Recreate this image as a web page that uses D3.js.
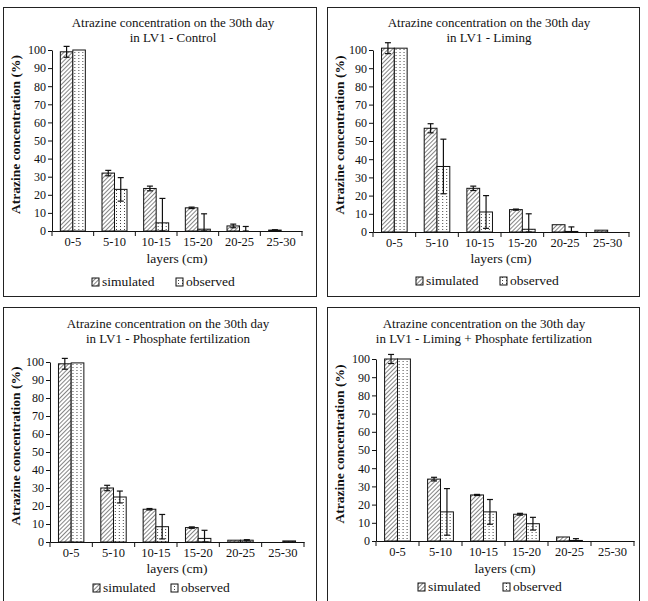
<!DOCTYPE html>
<html>
<head>
<meta charset="utf-8">
<script src="https://cdn.jsdelivr.net/npm/d3@7"></script>
<style>
  body { margin: 0; background: #fff; }
  svg text { font-family: "Liberation Serif", "Times New Roman", serif; fill: #111; }
</style>
</head>
<body>
<svg id="chart"></svg>
<script>
var width = 648;
var height = 601;

var categories = ["0-5", "5-10", "10-15", "15-20", "20-25", "25-30"];
var series = ["simulated", "observed"];
var yTicks = [0, 10, 20, 30, 40, 50, 60, 70, 80, 90, 100];

var titles = [
    "in LV1 - Control",
    "in LV1 -  Liming",
    "in LV1 - Phosphate fertilization",
    "in LV1 - Liming + Phosphate fertilization"
];

var controlSim = [99, 32, 23.5, 12.8, 2.8, 0.5];
var controlSimErr = [3, 1.5, 1.3, 0.4, 1, 0.2];
var controlObs = [100, 23, 4.5, 1, 0, 0];
var controlObsErr = [0, 6.5, 13.5, 8.5, 2.5, 0];

var limingSim = [101, 57, 24, 12.3, 4, 1];
var limingSimErr = [3, 2.5, 1.2, 0.3, 0, 0];
var limingObs = [101, 36, 11, 1.5, 0.3, 0];
var limingObsErr = [0, 15, 9, 8.5, 2.5, 0];

var phosphateSim = [99, 30, 18.2, 8, 1, 0];
var phosphateSimErr = [3, 1.5, 0.4, 0.4, 0, 0];
var phosphateObs = [99.5, 25, 8.5, 2, 1, 0.6];
var phosphateObsErr = [0, 3.3, 6.8, 4.5, 0.3, 0];

var limingPhosSim = [100, 34, 25.3, 14.7, 2.2, 0];
var limingPhosSimErr = [2.5, 1, 0.3, 0.5, 0, 0];
var limingPhosObs = [100, 16, 16, 9.5, 0.3, 0];
var limingPhosObsErr = [0, 12.8, 6.8, 3.5, 1, 0];

var panelData = [
    [controlSim, controlSimErr, controlObs, controlObsErr],
    [limingSim, limingSimErr, limingObs, limingObsErr],
    [phosphateSim, phosphateSimErr, phosphateObs, phosphateObsErr],
    [limingPhosSim, limingPhosSimErr, limingPhosObs, limingPhosObsErr]
];

// layout of the four boxes (pixel positions)
var panels = [
    {box: [3, 7, 313, 289], x: [52, 302], y: [231, 50], titleX: 173, titleY: 27, labelX: 15, xLabelY: 263, legendY: 286, legX: [92, 176]},
    {box: [327, 7, 312, 289], x: [373, 629], y: [232, 50], titleX: 489, titleY: 27, labelX: 339, xLabelY: 263, legendY: 285, legX: [416, 500]},
    {box: [3, 307, 313, 300], x: [50, 304], y: [542, 362], titleX: 168, titleY: 328, labelX: 15, xLabelY: 573, legendY: 592, legX: [93, 171]},
    {box: [327, 307, 312, 300], x: [376, 634], y: [541, 359], titleX: 484, titleY: 328, labelX: 339, xLabelY: 573, legendY: 591, legX: [418, 503]}
];

var svg = d3.select("#chart")
    .attr("width", width)
    .attr("height", height)
    .attr("xmlns", "http://www.w3.org/2000/svg");

svg.append("rect").attr("width", width).attr("height", height).attr("fill", "#fff");

// fill patterns
var defs = svg.append("defs");
var hatch = defs.append("pattern")
    .attr("id", "hatch")
    .attr("patternUnits", "userSpaceOnUse")
    .attr("width", 3)
    .attr("height", 3)
    .attr("patternTransform", "rotate(45)");
hatch.append("rect").attr("width", 3).attr("height", 3).attr("fill", "#fff");
hatch.append("line")
    .attr("x1", 0).attr("y1", 0).attr("x2", 0).attr("y2", 3)
    .attr("stroke", "#333").attr("stroke-width", 1.2);

var dots = defs.append("pattern")
    .attr("id", "dots")
    .attr("patternUnits", "userSpaceOnUse")
    .attr("width", 4)
    .attr("height", 3);
dots.append("rect").attr("width", 4).attr("height", 3).attr("fill", "#fff");
dots.append("rect").attr("x", 2).attr("y", 1).attr("width", 1).attr("height", 1).attr("fill", "#444");

var fills = {simulated: "url(#hatch)", observed: "url(#dots)"};

panels.forEach(function (p, idx) {
    var g = svg.append("g");
    var vals = panelData[idx];

    g.append("rect")
        .attr("x", p.box[0] + 0.5)
        .attr("y", p.box[1] + 0.5)
        .attr("width", p.box[2])
        .attr("height", p.box[3])
        .attr("fill", "none")
        .attr("stroke", "#222")
        .attr("stroke-width", 1);

    var x0 = d3.scaleBand()
        .domain(categories)
        .range(p.x)
        .paddingInner(0.4)
        .paddingOuter(0.2);
    var x1 = d3.scaleBand()
        .domain(series)
        .range([0, x0.bandwidth()]);
    var y = d3.scaleLinear()
        .domain([0, 100])
        .range(p.y);

    var rows = categories.map(function (c, i) {
        return [
            {cat: c, key: "simulated", v: vals[0][i], e: vals[1][i]},
            {cat: c, key: "observed", v: vals[2][i], e: vals[3][i]}
        ];
    });

    var groups = g.selectAll(".grp")
        .data(rows)
        .enter()
        .append("g")
        .attr("transform", function (d) {
            return "translate(" + x0(d[0].cat) + ",0)";
        });

    groups.selectAll("rect")
        .data(function (d) { return d; })
        .enter()
        .append("rect")
        .attr("x", function (d) { return x1(d.key); })
        .attr("y", function (d) { return y(d.v); })
        .attr("width", x1.bandwidth())
        .attr("height", function (d) { return y(0) - y(d.v); })
        .attr("fill", function (d) { return fills[d.key]; })
        .attr("stroke", "#111")
        .attr("stroke-width", 1);

    // error bars
    var err = groups.selectAll(".err")
        .data(function (d) { return d.filter(function (e) { return e.e > 0; }); })
        .enter()
        .append("g")
        .attr("stroke", "#111")
        .attr("stroke-width", 1.2);
    var cx = function (d) { return x1(d.key) + x1.bandwidth() / 2; };
    err.append("line")
        .attr("x1", cx).attr("x2", cx)
        .attr("y1", function (d) { return y(d.v + d.e); })
        .attr("y2", function (d) { return y(Math.max(0, d.v - d.e)); });
    err.append("line")
        .attr("x1", function (d) { return cx(d) - 3; })
        .attr("x2", function (d) { return cx(d) + 3; })
        .attr("y1", function (d) { return y(d.v + d.e); })
        .attr("y2", function (d) { return y(d.v + d.e); });
    err.append("line")
        .attr("x1", function (d) { return cx(d) - 3; })
        .attr("x2", function (d) { return cx(d) + 3; })
        .attr("y1", function (d) { return y(Math.max(0, d.v - d.e)); })
        .attr("y2", function (d) { return y(Math.max(0, d.v - d.e)); });

    // y axis
    var yAxis = g.append("g")
        .attr("transform", "translate(" + p.x[0] + ",0)")
        .call(d3.axisLeft(y).tickValues(yTicks).tickSize(4).tickSizeOuter(0));
    yAxis.select(".domain").attr("stroke", "#111");
    yAxis.selectAll(".tick line").attr("stroke", "#111");
    yAxis.selectAll("text").attr("x", -6).style("font-size", "12px");

    // x axis with ticks at category boundaries
    var xAxis = g.append("g")
        .attr("transform", "translate(0," + y(0) + ")")
        .call(d3.axisBottom(x0).tickSize(0).tickPadding(6));
    xAxis.select(".domain").attr("stroke", "#111").attr("stroke-width", 1.2);
    xAxis.selectAll("text").style("font-size", "12.5px");
    var bounds = d3.range(categories.length + 1).map(function (i) {
        return p.x[0] + i * x0.step();
    });
    xAxis.selectAll(".bound")
        .data(bounds)
        .enter()
        .append("line")
        .attr("x1", function (d) { return d; })
        .attr("x2", function (d) { return d; })
        .attr("y1", 0)
        .attr("y2", 5)
        .attr("stroke", "#111");

    // titles
    g.append("text")
        .attr("x", p.titleX)
        .attr("y", p.titleY)
        .attr("text-anchor", "middle")
        .style("font-size", "13px")
        .text("Atrazine concentration on the 30th day");
    g.append("text")
        .attr("x", p.titleX)
        .attr("y", p.titleY + 15)
        .attr("text-anchor", "middle")
        .style("font-size", "13px")
        .text(titles[idx]);

    g.append("text")
        .attr("transform", "translate(" + p.labelX + "," + ((p.y[0] + p.y[1]) / 2 - 6) + ") rotate(-90)")
        .attr("text-anchor", "middle")
        .attr("dy", "0.35em")
        .style("font-size", "13.5px")
        .style("font-weight", "bold")
        .text("Atrazine concentration (%)");

    g.append("text")
        .attr("x", (p.x[0] + p.x[1]) / 2)
        .attr("y", p.xLabelY)
        .attr("text-anchor", "middle")
        .style("font-size", "13.5px")
        .text("layers (cm)");

    // legend
    series.forEach(function (s, i) {
        g.append("rect")
            .attr("x", p.legX[i])
            .attr("y", p.legendY - 8)
            .attr("width", 7)
            .attr("height", 8)
            .attr("fill", fills[s])
            .attr("stroke", "#111");
        g.append("text")
            .attr("x", p.legX[i] + 10)
            .attr("y", p.legendY)
            .style("font-size", "13.5px")
            .text(s);
    });
});
</script>
</body>
</html>
